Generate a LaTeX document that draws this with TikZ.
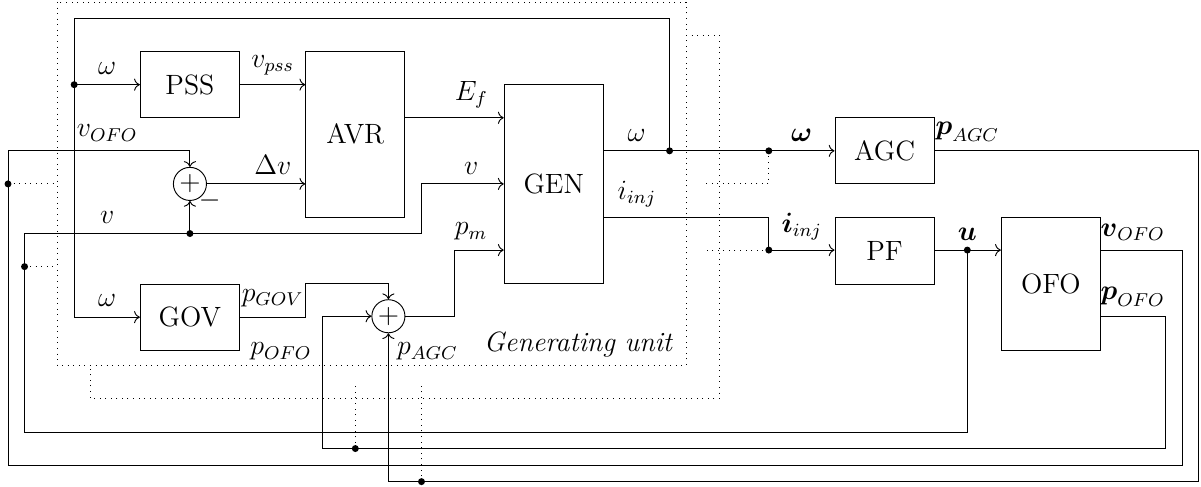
\documentclass[tikz,border=0pt,12pt]{standalone}
\usepackage{amsmath}
\usetikzlibrary{arrows.meta, positioning}

\begin{document}
\begin{tikzpicture}[
  x=0.5cm, y=-0.5cm,
  block/.style={draw, rectangle, align=center, minimum width=1.5cm, minimum height=1cm, inner sep=0pt},
  sumnode/.style={draw, circle, minimum size=0.5cm, inner sep=0pt},
  arrow/.style={->},
  unitbox/.style={dotted}
]
\useasboundingbox (-0.242,-0.06) rectangle (36.065,14.66);

% Nodes
\node (pss) [block] at (5.5,2.5) {PSS};
\node (avr) [block, minimum height=2.5cm] at (10.5,4) {AVR};
\node (gen) [block, minimum height=3cm] at (16.5,5.5) {GEN};
\node (gov) [block, below=2.5cm of pss] {GOV};
\node (agc) [block] at (26.5,4.5) {AGC};
\node (pf) [block, below=0.5cm of agc] {PF};
\node (ofo) [block, minimum height=2cm, right=1cm of pf.north east, anchor=north west] {OFO};

\node (sumv) [sumnode] at (5.5,5.5) {$+$};
\node (sump) [sumnode] at (11.5,9.5) {$+$};

% Junctions
\coordinate (wtap) at (20,4.5);
\coordinate (wpss) at (2,2.5);
\coordinate (wbus) at (23,4.5);
\coordinate (ibus) at (23,7.5);
\coordinate (utap) at (29,7.5);
\coordinate (vtap) at (5.5,7);
\coordinate (vofotap) at (0,5.5);
\coordinate (utapl) at (0.5,8);
\coordinate (pofotap) at (10.5,13.5);
\coordinate (pagctap) at (12.5,14.5);

% Generating units
\draw [unitbox] (1.5,0) rectangle (20.5,11);
\draw [unitbox] (20.5,1) -| (21.5,12) -| (2.5,11);
\node (gulabel) [anchor=base east, font=\itshape] at (20.37,10.57) {Generating unit};

% Arrows
\draw [arrow] (pss.east) -- node[above] {$v_{pss}$} (pss.east -| avr.west);
\draw [arrow] (sumv.east) -- node[above, pos=0.67] {$\Delta v$} (sumv.east -| avr.west);
\draw [arrow] (avr.east |- 0,3.5) -- node[above, pos=0.67] {$E_f$} (gen.west |- 0,3.5);

\draw (gen.east |- wtap) -- node[above] {$\omega$} (wtap) -- (wbus);
\draw [arrow] (wbus) -- node[above] {$\boldsymbol{\omega}$} (wbus -| agc.west);
\draw (wtap) |- (2,0.5) -- (wpss);
\draw [arrow] (wpss) -- node[above] {$\omega$} (pss.west);
\draw [arrow] (wpss) |- (gov.west);
\node (wgov) [above] at (3,9.5) {$\omega$};

\draw (gen.east |- 0,6.5) -- node[above, pos=0.2] {$i_{inj}$} (23,6.5) -- (ibus);
\draw [arrow] (ibus) -- node[above] {$\boldsymbol{i}_{inj}$} (ibus -| pf.west);

\draw (utap -| pf.east) -- (utap);
\draw [arrow] (utap) -- (ofo.west |- utap);
\node (lu) [above] at (utap) {$\boldsymbol{u}$};
\draw [arrow] (utap) |- (0.5,13) |- (12.5,7) |- (gen.west |- 0,5.5);
\node (lvgen) [above] at (14,5.5) {$v$};
\node (lv) [above] at (3,7) {$v$};
\draw [arrow] (vtap) -- (sumv.south);

\draw [arrow] (ofo.east |- 0,7.5) -| (35.5,14) -| (0,4.5) -| (sumv.north);
\node (lvofo) [above] at (3,4.5) {$v_{OFO}$};
\node (lvofob) [above] at (34,7.5) {$\boldsymbol{v}_{OFO}$};
\node (lminus) at (6.1,6) {$-$};

\draw [arrow] (ofo.east |- 0,9.5) -| (35,13.5) -| (9.5,9.5) -- (sump.west);
\node (lpofob) [above] at (34,9.5) {$\boldsymbol{p}_{OFO}$};
\node (lpofo) [anchor=base] at (8.25,10.67) {$p_{OFO}$};

\draw [arrow] (agc.east) -| (36,14.5) -| (sump.south);
\node (lpagcb) [above] at (29,4.5) {$\boldsymbol{p}_{AGC}$};
\node (lpagc) [anchor=base] at (12.68,10.67) {$p_{AGC}$};

\draw [arrow] (gov.east) -| (9,8.5) -| (sump.north);
\node (lpgov) [above] at (8,9.5) {$p_{GOV}$};

\draw [arrow] (sump.east) -| (13.5,7.5) -- (gen.west |- 0,7.5);
\node (lpm) [above] at (14,7.5) {$p_m$};

% Other units
\draw [unitbox] (vofotap) -- (1.5,5.5);
\draw [unitbox] (utapl) -- (1.5,8);
\draw [unitbox] (wbus) |- (21,5.5);
\draw [unitbox] (ibus) -- (21,7.5);
\draw [unitbox] (pofotap) -- (10.5,11.5);
\draw [unitbox] (pagctap) -- (12.5,11.5);

\foreach \p in {wtap, wpss, wbus, ibus, utap, vtap, vofotap, utapl, pofotap, pagctap}
  \fill (\p) circle (1.5pt);

\end{tikzpicture}
\end{document}
